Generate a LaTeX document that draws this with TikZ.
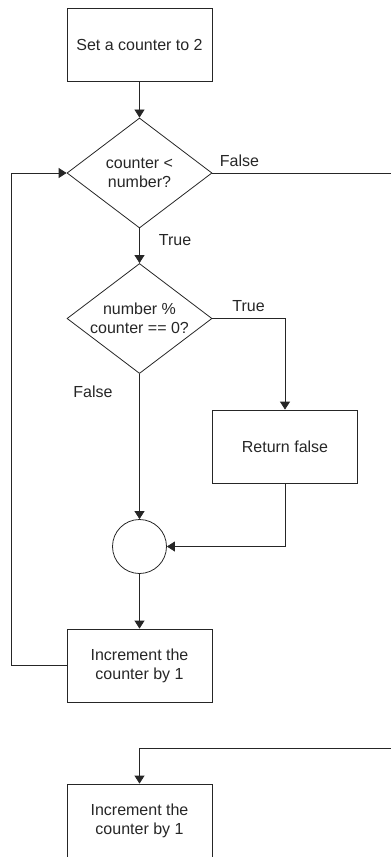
\documentclass[tikz,border=0pt]{standalone}
\usepackage{fontspec}
\setmainfont{Liberation Sans}
\usepackage{tikz}
\usetikzlibrary{arrows.meta}
\usetikzlibrary{shapes.geometric}

\tikzset{
    process/.style={draw, line width=0.6pt, minimum width=108.75pt, minimum height=54.75pt, align=center, inner sep=0pt},
    decision/.style={draw, diamond, aspect=1.32, line width=0.6pt, minimum width=108.75pt, minimum height=82.5pt, inner sep=0pt, align=center},
    joint/.style={draw, circle, line width=0.6pt, minimum size=40.5pt, inner sep=0pt},
    flow/.style={line width=0.6pt, -{Triangle[length=6pt,width=7.5pt]}},
    branch/.style={inner sep=0pt}
}

\begin{document}
\begin{tikzpicture}[x=0.75pt, y=-0.75pt, font=\fontsize{12}{14.4}\selectfont, black!85]

        \useasboundingbox (0,0) rectangle (391,857);

        \node[process] (start) at (139.5,44.5) {Set a counter to 2};
        \node[decision] (cond) at (139.5,173) {counter <\\number?};
        \node[decision] (test) at (139.5,318.5) {number \%\\counter == 0?};
        \node[process] (retfalse) at (285,446.5) {Return false};
        \node[joint] (join) at (139.5,546.5) {};
        \node[process] (incr) at (139.5,665.5) {Increment the\\counter by 1};
        \node[process] (next) at (139.5,820.5) {Increment the\\counter by 1};

        \coordinate (loopbot) at (11.5,665.5);
        \coordinate (looptop) at (11.5,173);
        \coordinate (exitR) at (391,173);
        \coordinate (enterR) at (391,748);

        \draw[flow] (start) -- (cond);
        \draw[flow] (cond) -- (test);
        \draw[flow] (test.east) -| (retfalse.north);
        \draw[flow] (test) -- (join);
        \draw[flow] (retfalse.south) |- (join.east);
        \draw[flow] (join) -- (incr);
        \draw[flow] (incr.west) -- (loopbot) -- (looptop) -- (cond.west);
        \draw[line width=0.6pt] (cond.east) -- (exitR);
        \draw[flow] (enterR) -| (next.north);

        % branch labels
        \node[branch] (lblfalse) at (239.5,161) {False};
        \node[branch] (lbltrue) at (175,240) {True};
        \node[branch] (lbltrue2) at (248.5,306) {True};
        \node[branch] (lblfalse2) at (93,392) {False};

\end{tikzpicture}
\end{document}
